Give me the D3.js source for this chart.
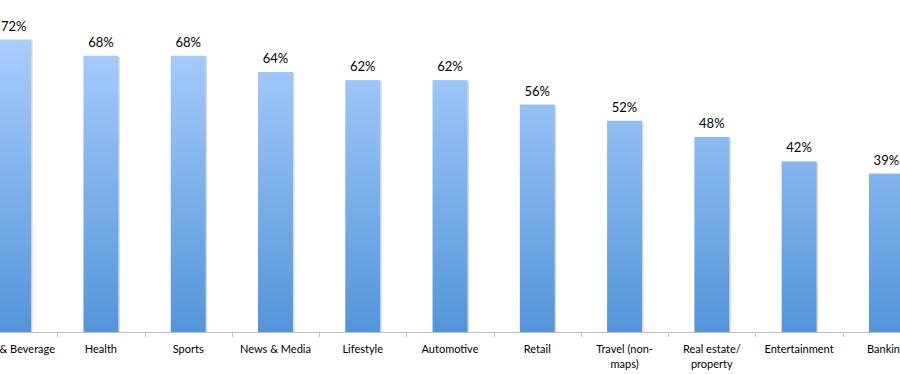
<!DOCTYPE html>
<html lang="en">
<head>
    <meta charset="UTF-8">
    <title>Share by Category</title>
    <script src="https://d3js.org/d3.v7.min.js"></script>
    <style>
        body { margin: 0; background: #fff; font-family: Lato, "Open Sans", sans-serif; }
        .value-label { font-size: 13px; fill: #000; text-anchor: middle; }
        .cat-label { font-size: 11px; fill: #000; text-anchor: middle; }
        .axis path, .axis line { stroke: #bfbfbf; }
    </style>
</head>
<body>
    <svg width="900" height="374"></svg>
    <script>
        const categories = ["Food & Beverage", "Health", "Sports", "News & Media", "Lifestyle",
                            "Automotive", "Retail", "Travel (non-|maps)", "Real estate/|property",
                            "Entertainment", "Banking"];
        const values = [72, 68, 68, 64, 62, 62, 56, 52, 48, 42, 39];

        const svg = d3.select("svg");
        const baseline = 332;

        // chart is cropped on both sides, so the band range runs past the window
        const x = d3.scaleBand()
                    .domain(categories)
                    .range([-30, 930])
                    .paddingInner(0.6)
                    .paddingOuter(0.3);

        const y = d3.scaleLinear()
                    .domain([0, 80])
                    .range([baseline, 7]);

        const grad = svg.append("defs").append("linearGradient")
                        .attr("id", "barGrad")
                        .attr("gradientUnits", "userSpaceOnUse")
                        .attr("x1", 0).attr("x2", 0)
                        .attr("y1", y(72)).attr("y2", baseline);
        grad.append("stop").attr("offset", "0%").attr("stop-color", "#a9cdfd");
        grad.append("stop").attr("offset", "100%").attr("stop-color", "#5395d9");

        const data = categories.map((c, i) => ({ cat: c, value: values[i] }));

        // faint shadow to the right of each bar
        svg.selectAll(".shadow")
           .data(data)
           .join("rect")
           .attr("x", d => x(d.cat) + 1.5)
           .attr("y", d => y(d.value) + 1)
           .attr("width", x.bandwidth())
           .attr("height", d => baseline - y(d.value) - 1)
           .attr("fill", "#d9d9d9");

        svg.selectAll(".bar")
           .data(data)
           .join("rect")
           .attr("x", d => x(d.cat))
           .attr("y", d => y(d.value))
           .attr("width", x.bandwidth())
           .attr("height", d => baseline - y(d.value))
           .attr("fill", "url(#barGrad)");

        svg.selectAll(".value-label")
           .data(data)
           .join("text")
           .attr("class", "value-label")
           .attr("x", d => x(d.cat) + x.bandwidth() / 2)
           .attr("y", d => y(d.value) - 9)
           .text(d => d.value + "%");

        // axis line with ticks between categories
        const axis = svg.append("g").attr("class", "axis");
        axis.append("line")
            .attr("x1", 0).attr("x2", 900)
            .attr("y1", baseline + 0.5).attr("y2", baseline + 0.5);
        const step = x.step();
        axis.selectAll(".tick")
            .data(categories.slice(1))
            .join("line")
            .attr("x1", d => Math.round(x(d) - step * x.paddingInner() / 2) + 0.5)
            .attr("x2", d => Math.round(x(d) - step * x.paddingInner() / 2) + 0.5)
            .attr("y1", baseline)
            .attr("y2", baseline + 5);

        const labels = svg.selectAll(".cat-label")
           .data(data)
           .join("text")
           .attr("class", "cat-label")
           .attr("x", d => x(d.cat) + x.bandwidth() / 2)
           .attr("y", baseline + 21);
        labels.each(function(d) {
            const lines = d.cat.split("|");
            d3.select(this).selectAll("tspan")
              .data(lines)
              .join("tspan")
              .attr("x", x(d.cat) + x.bandwidth() / 2)
              .attr("dy", (l, i) => i === 0 ? 0 : 15)
              .text(l => l);
        });
    </script>
</body>
</html>
